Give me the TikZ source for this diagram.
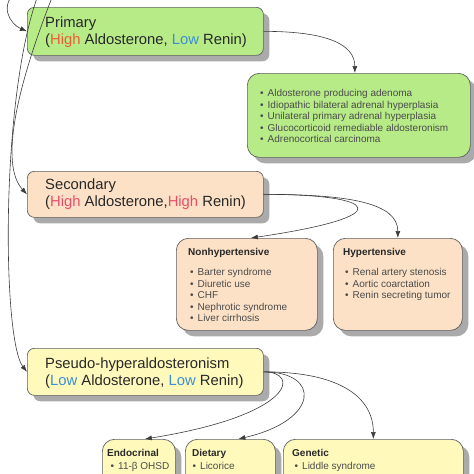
\documentclass[tikz,border=0pt]{standalone}
\usepackage{fontspec}
\setmainfont{Liberation Sans}
\usetikzlibrary{arrows.meta,shadows}
\definecolor{pgreen}{RGB}{183,235,136}
\definecolor{ppeach}{RGB}{252,225,198}
\definecolor{pyellow}{RGB}{255,250,188}
\definecolor{bordergray}{RGB}{95,95,95}
\definecolor{shadowgray}{RGB}{170,170,170}
\definecolor{titlegray}{RGB}{40,40,40}
\definecolor{listgray}{RGB}{75,75,75}
\definecolor{conngray}{RGB}{60,60,60}
\definecolor{hiorange}{RGB}{236,92,52}
\definecolor{hipink}{RGB}{232,78,104}
\definecolor{loblue}{RGB}{58,142,212}
\newcommand{\bul}{\makebox[7.5pt][l]{\textbullet}}
\begin{document}
\begin{tikzpicture}[x=1pt,y=-1pt,
  box/.style={draw=bordergray, line width=0.7pt, anchor=north west, inner sep=0pt,
    drop shadow={shadow xshift=6pt, shadow yshift=-6pt, fill=shadowgray, opacity=1}},
  tbox/.style={box, rounded corners=7pt},
  lbox/.style={box, rounded corners=12pt},
  titletext/.style={anchor=north west, inner sep=0pt, align=left,
    font=\fontsize{14.8}{17}\selectfont, text=titlegray},
  listtext/.style={anchor=north west, inner sep=0pt, align=left,
    font=\fontsize{10}{11.5}\selectfont, text=listgray},
  headtext/.style={anchor=north west, inner sep=0pt, font=\fontsize{10}{11.5}\selectfont\bfseries, text=titlegray},
  conn/.style={draw=conngray, line width=0.6pt, -{Latex[length=7pt,width=5pt]}}]
\useasboundingbox (0,0) rectangle (474,474);
\clip (0,0) rectangle (474,474);

% boxes
\node[tbox, fill=pgreen, minimum width=236pt, minimum height=48pt] (primary) at (27,7) {};
\node[lbox, fill=pgreen, minimum width=223pt, minimum height=84pt] (plist) at (247,73) {};
\node[tbox, fill=ppeach, minimum width=236pt, minimum height=46pt] (secondary) at (27,171) {};
\node[lbox, fill=ppeach, minimum width=141pt, minimum height=92pt] (nonhyp) at (176,238) {};
\node[lbox, fill=ppeach, minimum width=129pt, minimum height=92pt] (hyp) at (333,238) {};
\node[tbox, fill=pyellow, minimum width=236pt, minimum height=47pt] (pseudo) at (27,348) {};
\node[lbox, fill=pyellow, minimum width=73pt, minimum height=80pt] (endo) at (102,439) {};
\node[lbox, fill=pyellow, minimum width=90pt, minimum height=80pt] (diet) at (185,439) {};
\node[lbox, fill=pyellow, minimum width=180pt, minimum height=80pt] (gene) at (283,439) {};

% texts
\node[titletext] (primaryT) at (45,17) {Primary\\(\textcolor{hiorange}{High} Aldosterone, \textcolor{loblue}{Low} Renin)};
\node[titletext] (secondaryT) at (45,179) {Secondary\\(\textcolor{hipink}{High} Aldosterone,\textcolor{hipink}{High} Renin)};
\node[titletext] (pseudoT) at (45,358) {Pseudo-hyperaldosteronism\\(\textcolor{loblue}{Low} Aldosterone, \textcolor{loblue}{Low} Renin)};

\node[listtext] (plistT) at (260,89.5) {\bul Aldosterone producing adenoma\\
\bul Idiopathic bilateral adrenal hyperplasia\\
\bul Unilateral primary adrenal hyperplasia\\
\bul Glucocorticoid remediable aldosteronism\\
\bul Adrenocortical carcinoma};

\node[headtext] (nonhypH) at (188,248.3) {Nonhypertensive};
\node[listtext] (nonhypT) at (190,268.5) {\bul Barter syndrome\\
\bul Diuretic use\\
\bul CHF\\
\bul Nephrotic syndrome\\
\bul Liver cirrhosis};

\node[headtext] (hypH) at (343,248.3) {Hypertensive};
\node[listtext] (hypT) at (345,268.5) {\bul Renal artery stenosis\\
\bul Aortic coarctation\\
\bul Renin secreting tumor};

\node[headtext] (endoH) at (107,449.3) {Endocrinal};
\node[listtext] (endoT) at (110.5,462) {\bul 11-β OHSD};
\node[headtext] (dietH) at (192,449.3) {Dietary};
\node[listtext] (dietT) at (192.5,462) {\bul Licorice};
\node[headtext] (geneH) at (292,449.3) {Genetic};
\node[listtext] (geneT) at (294.5,462) {\bul Liddle syndrome};

% incoming connectors from above
\coordinate (rootA) at (18,-10);
\coordinate (rootB) at (40,-10);
\coordinate (rootC) at (55,-10);
\draw[conn] (rootA) .. controls (-2,5) and (10,24) .. (primary.west);
\draw[conn] (rootB) .. controls (0,90) and (2,340) .. (pseudo.west);
\draw[conn] (rootC) .. controls (15,90) and (0,165) .. (secondary.west);

% outgoing connectors
\draw[conn] (primary.east) .. controls +(65,0) and +(0,-28) .. ([xshift=-4pt]plist.north);
\draw[conn] (secondary.east) .. controls +(116,0) and +(150,-22) .. ([xshift=4pt]nonhyp.north);
\draw[conn] (secondary.east) .. controls +(86,0) and +(0,-35) .. (hyp.north);
\draw[conn] (pseudo.east) .. controls +(37,0) and +(150,-24) .. ([xshift=6pt]endo.north);
\draw[conn] (pseudo.east) .. controls +(57,0) and +(82,-19) .. ([xshift=8pt]diet.north);
\draw[conn] (pseudo.east) .. controls +(81,0) and +(0,-39) .. (gene.north);
\end{tikzpicture}
\end{document}
